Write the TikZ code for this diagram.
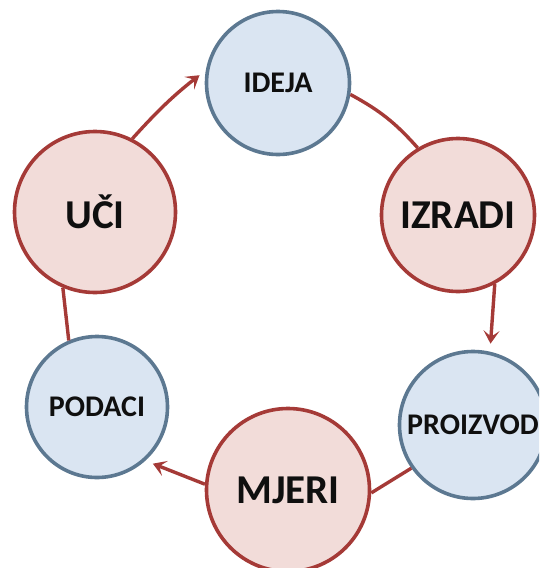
\documentclass[tikz,border=0pt]{standalone}
\usepackage{fontspec}
\setmainfont{Carlito}
\usetikzlibrary{arrows.meta}

\definecolor{redline}{RGB}{165,58,55}
\definecolor{redfill}{RGB}{242,220,217}
\definecolor{blueline}{RGB}{92,120,145}
\definecolor{bluefill}{RGB}{218,229,242}
\definecolor{textcol}{RGB}{15,15,15}

\begin{document}
\begin{tikzpicture}[x=1pt,y=-1pt,>={Stealth[length=13pt,width=16pt,inset=6pt]},
  red node/.style={circle,draw=redline,fill=redfill,line width=3.6pt,inner sep=0pt,
    text=textcol,font=\bfseries\fontsize{41}{41}\selectfont},
  blue node/.style={circle,draw=blueline,fill=bluefill,line width=3.6pt,inner sep=0pt,
    text=textcol,font=\bfseries\fontsize{30}{30}\selectfont}]

  \useasboundingbox (0,0) rectangle (539,568);
  \clip (0,0) rectangle (539,568);

  \node[blue node,minimum size=143pt] (1) at (278,83) {IDEJA};
  \node[red node,minimum size=153pt] (2) at (458,215) {IZRADI};
  \node[blue node,minimum size=147pt] (3) at (473,425) {PROIZVOD};
  \node[red node,minimum size=163pt] (4) at (288,490) {MJERI};
  \node[blue node,minimum size=141pt] (5) at (97,407) {PODACI};
  \node[red node,minimum size=161pt] (6) at (95,212) {UČI};

  \path[color=redline,line width=3.4pt]
    (6.63) edge[->,bend left=5,shorten >=8pt] (1.170)
    (1.-9) edge[bend left=10] (2.121)
    (2.-62) edge[->,shorten >=8pt] (3.77)
    (3.215) edge (4.-2)
    (4.176) edge[->,shorten >=8pt] (5.-48)
    (5.113) edge (6.247);

\end{tikzpicture}
\end{document}
